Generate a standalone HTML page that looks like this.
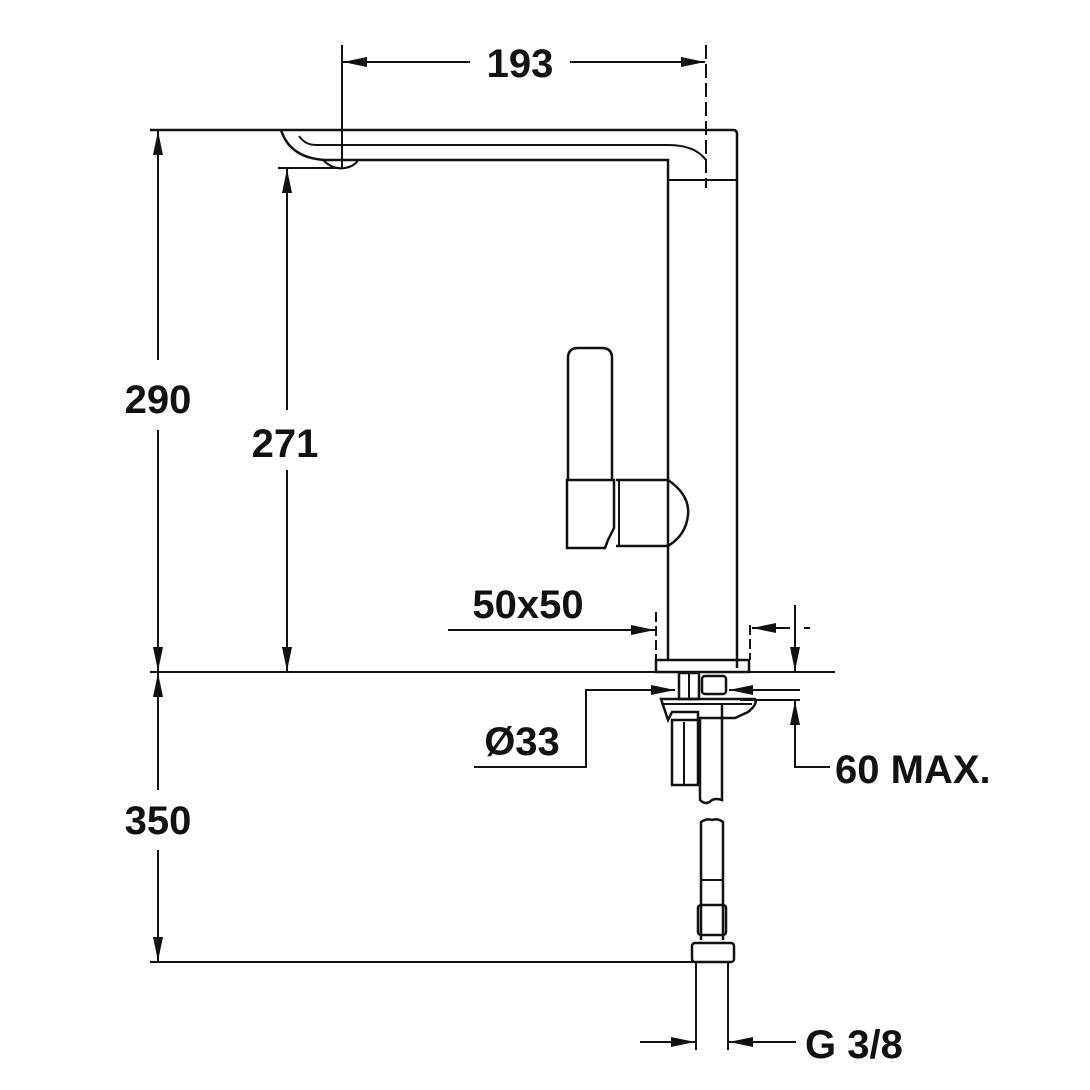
<!DOCTYPE html>
<html><head><style>html,body{margin:0;padding:0;background:#fff}svg{display:block}
text{font-family:"Liberation Sans",sans-serif;font-weight:bold;font-size:40px;fill:#111}</style></head>
<body>
<svg width="1090" height="1090" viewBox="0 0 1090 1090" xmlns="http://www.w3.org/2000/svg">
<defs>
<marker id="a" viewBox="0 0 24 12" refX="24" refY="6" markerWidth="24" markerHeight="12" markerUnits="userSpaceOnUse" orient="auto"><path d="M0,1 L24,6 L0,11z" fill="#111"/></marker>
</defs>
<g stroke="#111" stroke-width="2" fill="none">
<line x1="342" y1="45" x2="342" y2="168"/>
<line x1="706" y1="45" x2="706" y2="188" stroke-dasharray="14,5"/>
<line x1="470" y1="62" x2="343" y2="62" marker-end="url(#a)"/>
<line x1="570" y1="62" x2="705" y2="62" marker-end="url(#a)"/>
<path d="M150,130 H733 Q737,130 737,134 V668" stroke-width="2.5"/>
<path d="M281,130 Q290,158 325,160 H668 V660" stroke-width="2.5"/>
<path d="M299,136 Q305,145 316,145 H668 Q695,145 706,160"/>
<path d="M323,160 Q333,170 345,168 Q355,166 358,160" stroke-width="2"/>
<line x1="668" y1="180" x2="737" y2="180"/>
<line x1="158" y1="360" x2="158" y2="131" marker-end="url(#a)"/>
<line x1="158" y1="430" x2="158" y2="671" marker-end="url(#a)"/>
<line x1="278" y1="168" x2="340" y2="168"/>
<line x1="287" y1="410" x2="287" y2="169" marker-end="url(#a)"/>
<line x1="287" y1="470" x2="287" y2="671" marker-end="url(#a)"/>
<line x1="150" y1="672" x2="835" y2="672"/>
<path d="M568,480 V358 Q568,348 578,348 H602 Q612,348 612,358 V480" stroke-width="2.5"/>
<path d="M567,480 H614 V528 L608,540 L605,548 H567 Z" stroke-width="2.5"/>
<path d="M616,480 H668 Q690,495 688,515 Q686,535 668,546 H616" stroke-width="2.5"/>
<line x1="619" y1="481" x2="619" y2="545"/>
<rect x="656" y="660" width="93" height="12" stroke-width="2.5"/>
<line x1="448" y1="630" x2="655" y2="630" marker-end="url(#a)"/>
<line x1="656" y1="612" x2="656" y2="660" stroke-dasharray="10,4"/>
<line x1="750" y1="625" x2="750" y2="660" stroke-dasharray="10,4"/>
<line x1="790" y1="628" x2="752" y2="628" marker-end="url(#a)"/>
<line x1="795" y1="605" x2="795" y2="671" marker-end="url(#a)"/>
<line x1="804" y1="628" x2="810" y2="628"/>
<rect x="679" y="673" width="20" height="26" stroke-width="2.5"/>
<line x1="689" y1="673" x2="689" y2="699"/>
<rect x="702" y="676" width="24" height="18" rx="3" stroke-width="2.5"/>
<path d="M661,699 H755 Q758,704 748,712 L735,718 H698 V712 H672 L668,720 Z" stroke-width="2.5"/>
<line x1="662" y1="704" x2="752" y2="704"/>
<rect x="672" y="720" width="26" height="65" stroke-width="2.5"/>
<line x1="684" y1="722" x2="684" y2="785"/>
<path d="M700,718 V800 Q706,806 712,800 Q716,798 722,800 V705" stroke-width="2.5"/>
<polyline points="474,767 586,767 586,690 675,690" marker-end="url(#a)"/>
<line x1="800" y1="690" x2="729" y2="690" marker-end="url(#a)"/>
<line x1="740" y1="700" x2="800" y2="700"/>
<polyline points="830,767 795,767 795,701" marker-end="url(#a)"/>
<line x1="158" y1="790" x2="158" y2="673" marker-end="url(#a)"/>
<line x1="158" y1="850" x2="158" y2="961" marker-end="url(#a)"/>
<line x1="150" y1="962" x2="693" y2="962"/>
<path d="M701,940 V822 Q707,818 712,820 Q718,818 723,822 V940" stroke-width="2.5"/>
<line x1="701" y1="880" x2="723" y2="880"/>
<rect x="698" y="905" width="28" height="30" rx="3" stroke-width="2.5"/>
<rect x="692" y="943" width="42" height="19" rx="3" stroke-width="2.5"/>
<line x1="696" y1="962" x2="696" y2="1050"/>
<line x1="728" y1="962" x2="728" y2="1050"/>
<line x1="640" y1="1042" x2="695" y2="1042" marker-end="url(#a)"/>
<line x1="796" y1="1042" x2="729" y2="1042" marker-end="url(#a)"/>
</g>
<text x="520" y="77" text-anchor="middle">193</text>
<text x="158" y="413" text-anchor="middle">290</text>
<text x="285" y="457" text-anchor="middle">271</text>
<text x="528" y="618" text-anchor="middle">50x50</text>
<text x="522" y="755" text-anchor="middle">Ø33</text>
<text x="835" y="783">60 MAX.</text>
<text x="158" y="834" text-anchor="middle">350</text>
<text x="805" y="1058">G 3/8</text>
</svg>
</body></html>
